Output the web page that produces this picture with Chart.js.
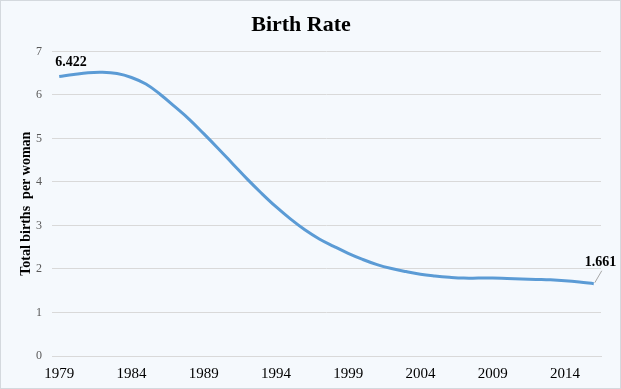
<!DOCTYPE html>
<html>
<head>
<meta charset="utf-8">
<script src="https://cdn.jsdelivr.net/npm/chart.js@4"></script>
<style>
html,body{margin:0;padding:0;background:#ffffff;}
#wrap{position:absolute;left:0;top:0;width:619px;height:387px;border:1px solid #d4d9de;background:#f5f9fd;}
canvas{display:block;}
</style>
</head>
<body>
<div id="wrap"><canvas id="c" width="619" height="387"></canvas></div>
<script>
const years = [1979,1980,1981,1982,1983,1984,1985,1986,1987,1988,1989,1990,1991,1992,1993,1994,1995,1996,1997,1998,1999,2000,2001,2002,2003,2004,2005,2006,2007,2008,2009,2010,2011,2012,2013,2014,2015,2016];
const birthRate = [6.422,6.47,6.51,6.52,6.49,6.40,6.25,6.01,5.73,5.44,5.11,4.77,4.42,4.07,3.74,3.43,3.15,2.90,2.69,2.52,2.36,2.22,2.10,2.01,1.94,1.88,1.84,1.81,1.79,1.79,1.79,1.78,1.77,1.76,1.75,1.73,1.70,1.661];
const yTicks = [0,1,2,3,4,5,6,7];
const labelEvery = 5;
const chartTitle = 'Birth Rate';
const yTitle = 'Total births  per woman';

const serif = '"Liberation Serif", "Times New Roman", serif';

const endLabels = {
  id: 'endLabels',
  afterDatasetsDraw(chart) {
    const meta = chart.getDatasetMeta(0);
    const ctx = chart.ctx;
    const first = meta.data[0];
    const last = meta.data[meta.data.length - 1];
    ctx.save();
    ctx.font = 'bold 14px ' + serif;
    ctx.fillStyle = '#000';
    ctx.textBaseline = 'middle';
    ctx.textAlign = 'left';
    ctx.fillText(birthRate[0].toFixed(3), first.x - 4, first.y - 14);
    ctx.strokeStyle = '#a6a6a6';
    ctx.lineWidth = 1;
    ctx.beginPath();
    ctx.moveTo(last.x + 1, last.y - 1);
    ctx.lineTo(last.x + 8, last.y - 13);
    ctx.stroke();
    ctx.fillText(birthRate[birthRate.length - 1].toFixed(3), last.x - 9, last.y - 21);
    ctx.restore();
  }
};

new Chart(document.getElementById('c'), {
  type: 'line',
  data: {
    labels: years.map(String),
    datasets: [{
      data: birthRate,
      borderColor: '#5b9bd5',
      borderWidth: 3,
      pointRadius: 0,
      tension: 0.4,
      fill: false
    }]
  },
  options: {
    responsive: false,
    animation: false,
    layout: { padding: { top: 0, left: 0, right: 19, bottom: 0 } },
    plugins: {
      legend: { display: false },
      tooltip: { enabled: false },
      title: {
        display: true,
        text: chartTitle,
        color: '#000',
        font: { family: serif, size: 22, weight: 'bold', lineHeight: 1.2 },
        padding: { top: 11, bottom: 13 }
      }
    },
    scales: {
      x: {
        type: 'category',
        offset: true,
        grid: { display: false, drawTicks: false },
        border: { display: true, color: '#d9d9d9' },
        ticks: {
          autoSkip: false,
          maxRotation: 0,
          padding: 9,
          color: '#000',
          font: { family: serif, size: 15 },
          callback: function(v, i) { return i % labelEvery === 0 ? this.getLabelForValue(v) : ''; }
        },
        afterFit(s) { s.height = 32; }
      },
      y: {
        min: 0,
        max: 7,
        afterBuildTicks(s) { s.ticks = yTicks.map(v => ({ value: v })); },
        grid: { color: '#d9d9d9', drawTicks: false, lineWidth: 1 },
        border: { display: false },
        ticks: {
          padding: 10,
          color: '#595959',
          font: { family: serif, size: 12 }
        },
        title: {
          display: true,
          text: yTitle,
          color: '#000',
          font: { family: serif, size: 14, weight: 'bold', lineHeight: 1.2 },
          padding: { top: 17, bottom: 0 }
        },
        afterFit(s) { s.width = 51; }
      }
    }
  },
  plugins: [endLabels]
});
</script>
</body>
</html>
